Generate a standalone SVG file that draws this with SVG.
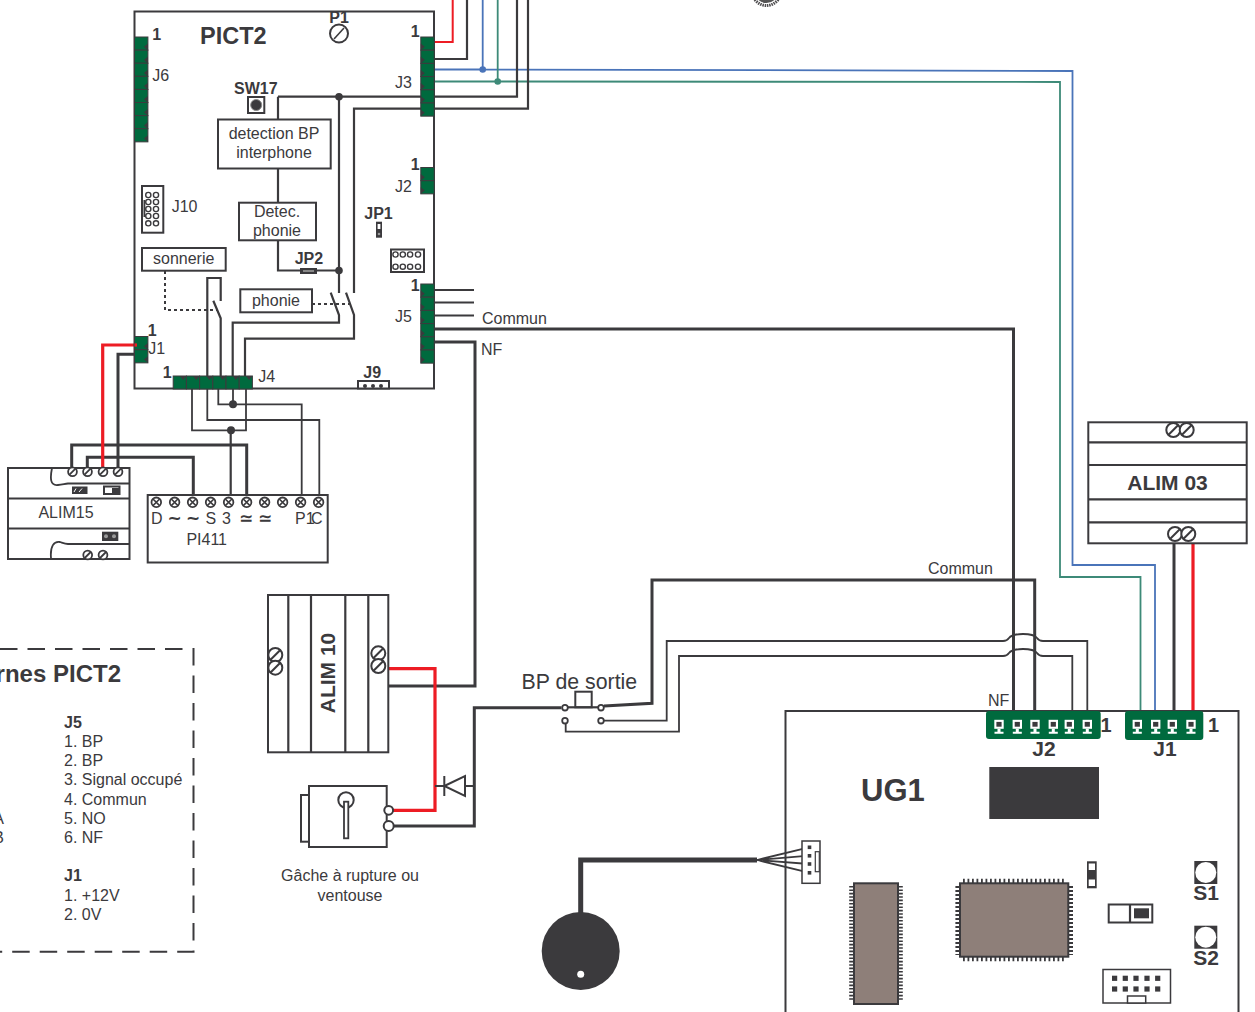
<svg xmlns="http://www.w3.org/2000/svg" width="1255" height="1012" viewBox="0 0 1255 1012">
<style>
text{font-family:"Liberation Sans",Arial,sans-serif;fill:#3b3a3d;font-size:16px}
.b{font-weight:bold}
.m{text-anchor:middle}
.sym{font-family:"DejaVu Sans",sans-serif;font-size:17px;font-weight:bold;text-anchor:middle}
.box{fill:#fff;stroke:#3b3a3d;stroke-width:2}
.w{fill:none;stroke:#3b3a3d;stroke-linejoin:miter}
.th{stroke-width:3}
.md{stroke-width:2.2}
.tn{stroke-width:1.8}
.red{fill:none;stroke:#ed1c24;stroke-width:3.2}
.blue{fill:none;stroke:#4a74b9;stroke-width:1.8}
.gr{fill:none;stroke:#3d8a78;stroke-width:1.8}
.dot{fill:#3b3a3d}
.pin{fill:#006a3e;stroke:#3b3a3d;stroke-width:1}
.chip{fill:#8e7f79;stroke:#3b3a3d;stroke-width:2}
.tv{stroke:#3b3a3d;stroke-width:4.6;stroke-dasharray:1.6 1.8;fill:none}
.tv4{stroke:#3b3a3d;stroke-width:4.6;stroke-dasharray:2 2;fill:none}
.th5{stroke:#3b3a3d;stroke-width:4.6;stroke-dasharray:1.8 2.7;fill:none}
</style>
<defs>
<g id="s4"><circle r="4.4" fill="#fff" stroke="#3b3a3d" stroke-width="1.8"/><path d="M-3,3L3,-3" stroke="#3b3a3d" stroke-width="1.8"/></g>
<g id="s7"><circle r="7" fill="#fff" stroke="#3b3a3d" stroke-width="2"/><path d="M-5,5L5,-5" stroke="#3b3a3d" stroke-width="2"/></g>
<g id="sx"><circle r="4.8" fill="#fff" stroke="#3b3a3d" stroke-width="1.8"/><path d="M-3.3,-3.3L3.3,3.3M-3.3,3.3L3.3,-3.3" stroke="#3b3a3d" stroke-width="1.6"/></g>
<g id="pv"><rect width="13.4" height="13.15" class="pin"/><path d="M13.4,6.5v6.6l-4,-3.3z" class="dot"/></g>
<g id="pl"><rect width="13.4" height="13.15" class="pin"/><path d="M0,6.5v6.6l4,-3.3z" class="dot"/></g>
<g id="ph"><rect width="13.2" height="13" class="pin"/><path d="M6.6,0h6.6l-3.3,4z" class="dot"/></g>
<g id="tp"><rect x="-4.7" y="-4.5" width="9.4" height="9" fill="#fff"/><rect x="-2.6" y="-2.4" width="5.2" height="4.8" class="dot"/><path d="M-1.5,4.5h3v3h3v2h-9v-2h3z" fill="#fff"/></g>
</defs>

<g id="connectors">
<path class="red" style="stroke-width:2" d="M434,42H452.7V0"/>
<path class="w md" d="M434,59H467V0"/>
<path class="blue" d="M434,69.5H482.7V0M482.7,69.5L1072.5,71V565H1155V711"/>
<path class="gr" d="M434,81.5H497.7V0M497.7,81.5L1060,82V577H1140.5V711"/>
<path class="w md" d="M421,96.7H517V0"/>
<path class="w md" d="M421,108.7H528V0"/>
<path class="w md" d="M354,293V108.7H421"/>
<path class="w md" d="M278,119V96.7"/>
<path class="w md" d="M278,96.7H421M339,96.7V293"/>
<path class="w md" d="M278,168V202M278,241V270.5H339"/>
<path class="w md" d="M330.7,292.7L339,315V322.7H232.7V376"/>
<path class="w md" d="M346,292.7L354,315V338.7H245V376"/>
<path class="w" stroke-width="2" stroke-dasharray="3 3" d="M312,304H351"/>
<path class="w" stroke-width="2" stroke-dasharray="3 3" d="M165,271V310H217"/>
<path class="w md" d="M207.3,376V278H220.7V301M213.3,300.7L220.7,318.3V376"/>
<path class="w tn" d="M434,290H474M434,302.5H474M434,315.5H474"/>
<path class="w th" d="M434,329H1013.5V711"/>
<path class="w th" d="M434,342H475V686H387"/>
<path class="w tn" d="M192,389V430.3H246V389"/>
<path class="w tn" d="M207.3,389V420H319.3V497"/>
<path class="w tn" d="M218.3,389V404.3H301.7V497"/>
<path class="w tn" d="M233,389V404.3"/>
<path class="w md" d="M230.7,430.3V497"/>
<path class="w th" d="M71.7,468V445H246.7V497"/>
<path class="w th" d="M87.3,468V457.3H193.3V497"/>
<path class="red" d="M102.7,468V345H137"/>
<path class="w th" d="M118,468V354.3H135"/>
<path class="red" d="M386,668.7H435V810.3H392"/>
<path class="w th" d="M393,826H474.3V707.7H561.5"/>
<path class="w md" d="M435,786H474"/>
<path class="w th" d="M604,706L652,703.3V580H1034.7V711"/>
<path class="w tn" d="M604,720.7H666.7V641H1003Q1007,641 1009,638Q1012,634 1023,634Q1034,634 1037,638Q1039,641 1043,641H1087.3V711"/>
<path class="w tn" d="M565.7,724V731.7H679V656H1003Q1007,656 1009,653Q1012,649 1023,649Q1034,649 1037,653Q1039,656 1043,656H1072.3V711"/>
<path class="w th" d="M1174,543V711"/>
<path class="red" d="M1193,543V711"/>
<path class="w" stroke-width="5" d="M580.7,915V860H757"/>
<path class="w tn" d="M757,860L809,847.3M757,860L809,855.7M757,860L809,864M757,860L809,872.7"/>
<circle cx="482.7" cy="69.5" r="3.3" fill="#4a74b9"/>
<circle cx="497.7" cy="81.5" r="3.3" fill="#3d8a78"/>
<circle class="dot" cx="339" cy="96.7" r="3.8"/>
<circle class="dot" cx="339" cy="270.5" r="3.8"/>
<circle class="dot" cx="233" cy="404.3" r="4"/>
<circle class="dot" cx="231" cy="430.3" r="4"/>
</g>

<g id="pict2">
<rect x="134.5" y="11.5" width="299.5" height="377" fill="none" stroke="#3b3a3d" stroke-width="2"/>
<text class="b" x="200" y="44" style="font-size:23.5px">PICT2</text>
<text class="b m" x="339" y="23">P1</text>
<circle cx="339" cy="33.5" r="9" fill="#fff" stroke="#3b3a3d" stroke-width="2"/><path d="M334,39L344,28" stroke="#3b3a3d" stroke-width="1.6"/>
<text class="b" x="152.3" y="40">1</text>
<text x="152.3" y="81">J6</text>
<text class="b" x="410.7" y="37">1</text>
<text x="395" y="88">J3</text>
<text class="b" x="410.7" y="170">1</text>
<text x="395" y="192">J2</text>
<text class="b" x="410.7" y="291">1</text>
<text x="395" y="322">J5</text>
<text class="b" x="147.7" y="336">1</text>
<text class="b" x="162.7" y="378">1</text>
<text x="258.3" y="382">J4</text>
<text x="171.7" y="212">J10</text>
</g>
<g id="j6"><use href="#pv" x="134.5" y="37"/><use href="#pv" x="134.5" y="50.1"/><use href="#pv" x="134.5" y="63.2"/><use href="#pv" x="134.5" y="76.3"/><use href="#pv" x="134.5" y="89.4"/><use href="#pv" x="134.5" y="102.5"/><use href="#pv" x="134.5" y="115.6"/><use href="#pv" x="134.5" y="128.7"/></g>
<g id="j3"><use href="#pl" x="420.8" y="37"/><use href="#pl" x="420.8" y="50.2"/><use href="#pl" x="420.8" y="63.4"/><use href="#pl" x="420.8" y="76.6"/><use href="#pl" x="420.8" y="89.8"/><use href="#pl" x="420.8" y="103"/></g>
<g id="j2-pict"><use href="#pl" x="420.8" y="167.5"/><use href="#pl" x="420.8" y="180.7"/></g>
<g id="j5"><use href="#pl" x="420.8" y="284"/><use href="#pl" x="420.8" y="297.2"/><use href="#pl" x="420.8" y="310.4"/><use href="#pl" x="420.8" y="323.6"/><use href="#pl" x="420.8" y="336.8"/><use href="#pl" x="420.8" y="350"/></g>
<g id="j1-pict"><use href="#pv" x="134.5" y="336.5"/><use href="#pv" x="134.5" y="349.7"/><path d="M134.5,345H137" class="red"/><text x="148.3" y="354">J1</text></g>
<g id="j4"><use href="#ph" x="173.2" y="376"/><use href="#ph" x="186.4" y="376"/><use href="#ph" x="199.6" y="376"/><use href="#ph" x="212.8" y="376"/><use href="#ph" x="226" y="376"/><use href="#ph" x="239.2" y="376"/></g>
<g id="sw17"><rect x="248" y="97" width="16.3" height="16" fill="#fff" stroke="#3b3a3d" stroke-width="2"/><circle cx="256.2" cy="105" r="5.5" class="dot" stroke="#888" stroke-width="1"/><text class="b" x="234" y="94">SW17</text></g>
<g id="detection"><rect class="box" x="218" y="119.5" width="112.7" height="49"/><text class="m" x="274" y="139">detection BP</text><text class="m" x="274" y="158">interphone</text></g>
<g id="detec"><rect class="box" x="239" y="202.7" width="77" height="37.6"/><text class="m" x="277" y="217">Detec.</text><text class="m" x="277" y="236">phonie</text></g>
<g id="sonnerie"><rect class="box" x="142" y="248" width="83.7" height="22.7"/><text class="m" x="183.7" y="264">sonnerie</text></g>
<g id="phonie"><rect class="box" x="240.3" y="289.3" width="71.7" height="23"/><text class="m" x="276" y="306">phonie</text></g>
<g id="j10"><rect class="box" x="142" y="186" width="21.3" height="46.7"/><rect x="143.5" y="200" width="1.8" height="17" class="dot"/>
<g fill="none" stroke="#3b3a3d" stroke-width="1.4"><circle cx="148.3" cy="195" r="2.6"/><circle cx="156" cy="195" r="2.6"/><circle cx="148.3" cy="202" r="2.6"/><circle cx="156" cy="202" r="2.6"/><circle cx="148.3" cy="209" r="2.6"/><circle cx="156" cy="209" r="2.6"/><circle cx="148.3" cy="216" r="2.6"/><circle cx="156" cy="216" r="2.6"/><circle cx="148.3" cy="223.3" r="2.6"/><circle cx="156" cy="223.3" r="2.6"/></g></g>
<g id="jp1"><text class="b" x="364.3" y="218.5">JP1</text><rect x="376" y="221.7" width="6" height="16" class="dot"/><rect x="377.6" y="224" width="2.8" height="5" fill="#fff"/><circle cx="379" cy="234" r="1.3" fill="#999"/></g>
<g id="jp2"><text class="b" x="294.7" y="263.5">JP2</text><rect x="300" y="268" width="17" height="6" class="dot"/><rect x="303" y="270" width="11" height="2" fill="#888"/></g>
<g id="header8"><rect class="box" x="391" y="249.5" width="33" height="22.5"/>
<g fill="none" stroke="#3b3a3d" stroke-width="1.4"><circle cx="395.5" cy="254.5" r="2.6"/><circle cx="402.8" cy="254.5" r="2.6"/><circle cx="410.1" cy="254.5" r="2.6"/><circle cx="418" cy="254.5" r="2.6"/><circle cx="395.5" cy="266.7" r="2.6"/><circle cx="402.8" cy="266.7" r="2.6"/><circle cx="410.1" cy="266.7" r="2.6"/><circle cx="418" cy="266.7" r="2.6"/></g></g>
<g id="j9"><text class="b" x="363.3" y="377.5">J9</text><rect x="358" y="381" width="31" height="7.5" class="box"/><circle cx="365" cy="386" r="2" class="dot"/><circle cx="373" cy="386" r="2" class="dot"/><circle cx="381" cy="386" r="2" class="dot"/></g>

<g id="labels"><text x="482" y="324">Commun</text><text x="481" y="355">NF</text><text x="928" y="574">Commun</text><text x="988" y="706">NF</text></g>

<g id="alim15"><rect class="box" x="8" y="468" width="121.5" height="91"/><path class="w tn" d="M8,498.5H129.5M8,528.5H129.5M52,468C50,478 50,486 58,485C62,485 64,484 68,483.5H129.5M51,558C50,546 54,541 60,542C63,543 65,544 68,544H129.5"/>
<use href="#s4" x="72.5" y="471.7"/><use href="#s4" x="87.5" y="471.7"/><use href="#s4" x="103" y="471.7"/><use href="#s4" x="118" y="471.7"/><use href="#s4" x="87.7" y="555"/><use href="#s4" x="103" y="555"/>
<rect x="72" y="486.5" width="15.5" height="7.5" class="dot"/><path d="M74,492l2,-3.5M79,492l3,-3.5" stroke="#fff"/><rect x="104" y="486.5" width="15.5" height="7.5" fill="#fff" stroke="#3b3a3d" stroke-width="2"/><rect x="112" y="488" width="7" height="5" class="dot"/><rect x="102" y="531.7" width="16.3" height="9.3" class="dot"/><circle cx="106" cy="536.3" r="2" fill="#999"/><circle cx="114" cy="536.3" r="2" fill="#999"/>
<text class="m" x="66" y="518">ALIM15</text></g>

<g id="pi411"><rect class="box" x="147.7" y="495" width="180" height="67.5"/>
<use href="#sx" x="156.3" y="502.3"/><use href="#sx" x="174.6" y="502.3"/><use href="#sx" x="192.6" y="502.3"/><use href="#sx" x="210.6" y="502.3"/><use href="#sx" x="228.6" y="502.3"/><use href="#sx" x="246.6" y="502.3"/><use href="#sx" x="264.6" y="502.3"/><use href="#sx" x="282.6" y="502.3"/><use href="#sx" x="300.6" y="502.3"/><use href="#sx" x="318.6" y="502.3"/>
<text x="151" y="524">D</text><text class="sym" x="174.5" y="524">~</text><text class="sym" x="193" y="524">~</text><text x="205.5" y="524">S</text><text x="222" y="524">3</text><text class="sym" x="246" y="524">≃</text><text class="sym" x="265" y="524">≃</text><text x="295" y="524">P1<tspan dx="-3.7">C</tspan></text>
<text class="m" x="206.7" y="545">PI411</text></g>

<g id="legend"><path fill="none" stroke="#3b3a3d" stroke-width="2" stroke-dasharray="17.5 10" d="M0,649H193.5V951.7H0"/>
<text class="b" x="121" y="682" text-anchor="end" style="font-size:24px">rnes PICT2</text>
<text x="4" y="823.5" text-anchor="end">A</text><text x="4" y="842.5" text-anchor="end">B</text>
<text class="b" x="64" y="728">J5</text><text x="64" y="747">1. BP</text><text x="64" y="766">2. BP</text><text x="64" y="785">3. Signal occupé</text><text x="64" y="805">4. Commun</text><text x="64" y="824">5. NO</text><text x="64" y="843">6. NF</text>
<text class="b" x="64" y="881">J1</text><text x="64" y="901">1. +12V</text><text x="64" y="920">2. 0V</text></g>

<g id="alim10"><rect class="box" x="268" y="595" width="120.3" height="157.3"/><path class="w md" d="M288.3,595V752M311,595V752M345.3,595V752M368.3,595V752"/>
<use href="#s7" x="275.3" y="655"/><use href="#s7" x="275.3" y="667.7"/><use href="#s7" x="378.3" y="653.3"/><use href="#s7" x="378.3" y="666"/>
<text class="b m" transform="translate(335,673) rotate(-90)" style="font-size:21px">ALIM 10</text></g>

<g id="gache"><rect class="box" x="301" y="795" width="8" height="46.7"/><rect class="box" x="309" y="786" width="77.7" height="61"/><circle cx="346" cy="800" r="7.7" fill="#fff" stroke="#3b3a3d" stroke-width="2"/><rect x="344" y="801.7" width="4.3" height="36.6" fill="#fff" stroke="#3b3a3d" stroke-width="1.8"/><circle cx="388.7" cy="810.3" r="4.4" fill="#fff" stroke="#3b3a3d" stroke-width="2"/><circle cx="388.7" cy="826" r="5" fill="#fff" stroke="#3b3a3d" stroke-width="2"/>
<text class="m" x="350" y="881">Gâche à rupture ou</text><text class="m" x="350" y="901">ventouse</text></g>

<g id="diode"><path d="M444.3,786L465,776V796Z" fill="#fff" stroke="#3b3a3d" stroke-width="2"/><path d="M444.3,776V796" stroke="#3b3a3d" stroke-width="2"/></g>

<g id="bp"><text x="521.5" y="689" style="font-size:21.3px">BP de sortie</text><rect x="575.3" y="691.7" width="16.4" height="15.6" fill="none" stroke="#3b3a3d" stroke-width="2"/><path class="w md" d="M568,707.3H598"/><circle cx="565" cy="707.7" r="2.8" fill="#fff" stroke="#3b3a3d" stroke-width="1.8"/><circle cx="601" cy="707.7" r="2.8" fill="#fff" stroke="#3b3a3d" stroke-width="1.8"/><circle cx="565" cy="720.7" r="2.8" fill="#fff" stroke="#3b3a3d" stroke-width="1.8"/><circle cx="601" cy="720.7" r="2.8" fill="#fff" stroke="#3b3a3d" stroke-width="1.8"/></g>

<g id="alim03"><rect class="box" x="1088.3" y="422.3" width="158.4" height="121"/><path class="w md" d="M1088,442.3H1246.7M1088,465H1246.7M1088,499.3H1246.7M1088,522.3H1246.7"/>
<use href="#s7" x="1173.3" y="430"/><use href="#s7" x="1186.7" y="430"/><use href="#s7" x="1175" y="534"/><use href="#s7" x="1188.3" y="534"/>
<text class="b m" x="1167.5" y="490" style="font-size:21px">ALIM 03</text></g>

<g id="speaker"><circle cx="580.7" cy="951" r="39" class="dot"/><circle cx="580.7" cy="974.3" r="3.5" fill="#fff"/></g>

<g id="ug1"><rect x="785.5" y="711" width="453" height="305" fill="none" stroke="#3b3a3d" stroke-width="2"/>
<text class="b" x="861" y="801" style="font-size:31px">UG1</text>
<rect x="989.3" y="767" width="109.7" height="52" class="dot"/>
<rect x="802" y="841" width="18" height="42.3" fill="#fff" stroke="#3b3a3d" stroke-width="1.5"/><rect x="815.3" y="851.7" width="4" height="20" fill="#fff" stroke="#3b3a3d" stroke-width="1.2"/>
<rect x="807.7" y="845.5" width="3.6" height="3.6" class="dot"/><rect x="807.7" y="854" width="3.6" height="3.6" class="dot"/><rect x="807.7" y="862.2" width="3.6" height="3.6" class="dot"/><rect x="807.7" y="871" width="3.6" height="3.6" class="dot"/>
<path class="tv" d="M851.5,886V1001M900.5,886V1001"/><rect class="chip" x="854" y="883.3" width="44" height="120.7"/>
<path class="th5" d="M963,881H1066M963,959H1066"/><path class="tv4" d="M957.7,886V955M1070.7,886V955"/><rect class="chip" x="960" y="883.3" width="108.3" height="73.4"/>
<rect x="1087" y="861.3" width="9.7" height="27" class="dot"/><rect x="1088.7" y="863.5" width="6.3" height="6.5" fill="#fff"/><rect x="1088.7" y="879.5" width="6.3" height="6.5" fill="#fff"/>
<rect class="box" x="1108.7" y="904.5" width="43.6" height="18"/><path class="w md" d="M1130,904.5V922.5"/><rect x="1134" y="908.3" width="15" height="10" class="dot"/>
<rect x="1194.3" y="861" width="23" height="23" class="dot"/><circle cx="1205.8" cy="872.5" r="10.5" fill="#fff"/><text class="b m" x="1206" y="899.5" style="font-size:21px">S1</text>
<rect x="1194.3" y="925.7" width="23" height="23" class="dot"/><circle cx="1205.8" cy="937.2" r="10.5" fill="#fff"/><text class="b m" x="1206" y="964.5" style="font-size:21px">S2</text>
<rect x="1103" y="969.5" width="67.5" height="33.5" fill="#fff" stroke="#3b3a3d" stroke-width="1.5"/><rect x="1127.5" y="996" width="18.2" height="7" fill="#fff" stroke="#3b3a3d" stroke-width="1.5"/>
<g class="dot"><rect x="1112" y="975.7" width="5.2" height="5.2"/><rect x="1122.7" y="975.7" width="5.2" height="5.2"/><rect x="1133.4" y="975.7" width="5.2" height="5.2"/><rect x="1144.4" y="975.7" width="5.2" height="5.2"/><rect x="1155.1" y="975.7" width="5.2" height="5.2"/><rect x="1112" y="986.4" width="5.2" height="5.2"/><rect x="1122.7" y="986.4" width="5.2" height="5.2"/><rect x="1133.4" y="986.4" width="5.2" height="5.2"/><rect x="1144.4" y="986.4" width="5.2" height="5.2"/><rect x="1155.1" y="986.4" width="5.2" height="5.2"/></g>
</g>
<g id="j2-ug"><rect x="986" y="711" width="114.7" height="28" rx="3" fill="#006a3e"/><use href="#tp" x="999" y="724.3"/><use href="#tp" x="1017.3" y="724.3"/><use href="#tp" x="1035" y="724.3"/><use href="#tp" x="1053.3" y="724.3"/><use href="#tp" x="1069.3" y="724.3"/><use href="#tp" x="1087.3" y="724.3"/><text class="b" x="1100.5" y="731.5" style="font-size:20px">1</text><text class="b m" x="1044" y="756" style="font-size:21px">J2</text></g>
<g id="j1-ug"><rect x="1125" y="711" width="78.3" height="29" rx="3" fill="#006a3e"/><use href="#tp" x="1137.3" y="724.3"/><use href="#tp" x="1155.7" y="724.3"/><use href="#tp" x="1172.3" y="724.3"/><use href="#tp" x="1191" y="724.3"/><text class="b" x="1208" y="731.5" style="font-size:20px">1</text><text class="b m" x="1165" y="756" style="font-size:21px">J1</text></g>
<g id="top-fragment"><circle cx="766.5" cy="-9" r="14.5" fill="none" stroke="#4f4e50" stroke-width="3" stroke-dasharray="1.5 0.8"/><circle cx="766.5" cy="-9" r="12" fill="#555"/></g>
</svg>
